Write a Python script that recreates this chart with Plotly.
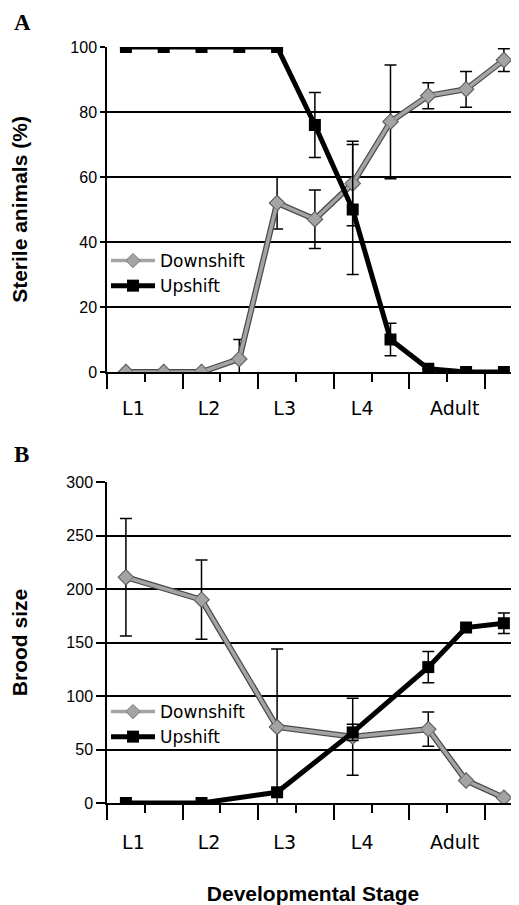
import plotly.graph_objects as go

# ---------------- data ----------------
stage_labels = ["L1", "L2", "L3", "L4", "Adult"]

# Panel A: 11 time points
time_a = [1, 2, 3, 4, 5, 6, 7, 8, 9, 10, 11]
sterile_down = [0, 0, 0, 4, 52, 47, 58, 77, 85, 87, 96]
sterile_down_err = [None, None, None, 6, 8, 9, 13, 17.5, 4, 5.5, 3.5]
sterile_up = [100, 100, 100, 100, 100, 76, 50, 10, 1, 0, 0]
sterile_up_err = [None, None, None, None, None, 10, 20, 5, None, None, None]

# Panel B: 7 time points (on the same 11-slot axis)
time_b = [1, 3, 5, 7, 9, 10, 11]
brood_down = [211, 190, 71, 62, 69, 21, 5]
brood_down_err = [55, 37, 73, 36, 16, None, None]
brood_up = [0, 0, 10, 66, 127, 164, 168]
brood_up_err = [None, None, None, 7.5, 14.5, None, 9.5]

# ---------------- styling ----------------
OFF = 8                       # default page body margin
W, H = 519 - OFF, 905 - OFF
GRAY = "#a4a4a4"
GRAY_DARK = "#4a4a4a"
BLACK = "#000000"
label_pos = [1.2, 3.2, 5.2, 7.25, 9.7]
major_ticks = [0.5, 2.5, 4.5, 6.5, 8.5, 10.5]
minor_ticks = [1.5, 3.5, 5.5, 7.5, 9.5]
xrange_ = [0.5, 11.4]

def px(v):
    return (v - OFF) / W

def py(v):
    return 1 - (v - OFF) / H

x_dom = [px(107), 1.0]
a_dom = [py(372), py(47)]
b_dom = [py(803), py(482)]

fig = go.Figure()

def add_series(x, y, err, name, xa, ya, legend, kind):
    if kind == "down":
        fig.add_trace(go.Scatter(
            x=x, y=y, xaxis=xa, yaxis=ya, mode="lines+markers",
            line=dict(color=GRAY_DARK, width=6),
            marker=dict(symbol="diamond", size=13, color=GRAY_DARK),
            error_y=dict(type="data", array=err, visible=True, color=BLACK,
                         thickness=1.5, width=6),
            showlegend=False, hoverinfo="skip", legend=legend))
        fig.add_trace(go.Scatter(
            x=x, y=y, xaxis=xa, yaxis=ya, mode="lines+markers", name=name,
            line=dict(color=GRAY, width=3.5),
            marker=dict(symbol="diamond", size=11, color=GRAY,
                        line=dict(color="#7a7a7a", width=1)),
            legend=legend))
    else:
        fig.add_trace(go.Scatter(
            x=x, y=y, xaxis=xa, yaxis=ya, mode="lines+markers", name=name,
            line=dict(color=BLACK, width=5),
            marker=dict(symbol="square", size=12, color=BLACK),
            error_y=dict(type="data", array=err, visible=True, color=BLACK,
                         thickness=1.5, width=6),
            legend=legend))

add_series(time_a, sterile_down, sterile_down_err, "Downshift", "x", "y", "legend", "down")
add_series(time_a, sterile_up, sterile_up_err, "Upshift", "x3", "y", "legend", "up")
add_series(time_b, brood_down, brood_down_err, "Downshift", "x2", "y2", "legend2", "down")
add_series(time_b, brood_up, brood_up_err, "Upshift", "x4", "y2", "legend2", "up")

tick_font = dict(family="Liberation Sans, Arial, sans-serif", size=16, color=BLACK)
lab_font = dict(family="DejaVu Sans, Verdana, sans-serif", size=19, color=BLACK)
title_font = dict(family="Liberation Sans, Arial, sans-serif", size=21, color=BLACK)

def tick_axis(anchor):
    return dict(domain=x_dom, range=xrange_, anchor=anchor, showgrid=False,
                zeroline=False, showline=True, linecolor=BLACK, linewidth=1.5,
                tickmode="array", tickvals=major_ticks, ticks="outside",
                ticklen=15, tickwidth=1.5, tickcolor=BLACK, showticklabels=False,
                minor=dict(tickmode="array", tickvals=minor_ticks, ticks="outside",
                           ticklen=8, tickwidth=1.5, tickcolor=BLACK),
                fixedrange=True)

def label_axis(over, anchor, tlen, title=None):
    d = dict(domain=x_dom, range=xrange_, anchor=anchor, overlaying=over,
             showgrid=False, zeroline=False, showline=False,
             tickmode="array", tickvals=label_pos, ticktext=stage_labels,
             ticks="outside", ticklen=tlen, tickcolor="rgba(0,0,0,0)",
             tickfont=lab_font, side="bottom", fixedrange=True)
    if title:
        d["title"] = dict(text=title, font=title_font, standoff=34)
    return d

def y_axis(dom, rng, dt, title, tlen, anchor):
    return dict(domain=dom, range=rng, dtick=dt, tick0=0, anchor=anchor,
                showgrid=True, gridcolor=BLACK, gridwidth=1.5,
                zeroline=False, showline=True, linecolor=BLACK, linewidth=1.5,
                ticks="outside", ticklen=tlen, tickwidth=1.5, tickcolor=BLACK,
                tickfont=tick_font,
                title=dict(text=title, font=title_font, standoff=44),
                fixedrange=True)

leg_font = dict(family="DejaVu Sans, Verdana, sans-serif", size=17, color=BLACK)
letter_font = dict(family="Liberation Serif, serif", size=23, color=BLACK)

fig.update_layout(
    width=W, height=H,
    margin=dict(l=0, r=0, t=0, b=0, autoexpand=False),
    paper_bgcolor="white", plot_bgcolor="white",
    xaxis=tick_axis("y"),
    xaxis2=tick_axis("y2"),
    xaxis3=label_axis("x", "y", 19),
    xaxis4=label_axis("x2", "y2", 22, "<b>Developmental Stage</b>"),
    yaxis=y_axis(a_dom, [0, 100], 20, "<b>Sterile animals (%)</b>", 5, "x"),
    yaxis2=y_axis(b_dom, [0, 300], 50, "<b>Brood size</b>", 9, "x2"),
    legend=dict(x=px(106), y=py(243), xanchor="left", yanchor="top",
                bgcolor="rgba(0,0,0,0)", itemwidth=44, tracegroupgap=0,
                font=leg_font),
    legend2=dict(x=px(106), y=py(694), xanchor="left", yanchor="top",
                 bgcolor="rgba(0,0,0,0)", itemwidth=44, tracegroupgap=0,
                 font=leg_font),
    annotations=[
        dict(text="<b>A</b>", x=px(12), y=py(8), xref="paper", yref="paper",
             xanchor="left", yanchor="top", showarrow=False, font=letter_font),
        dict(text="<b>B</b>", x=px(12), y=py(440), xref="paper", yref="paper",
             xanchor="left", yanchor="top", showarrow=False, font=letter_font),
    ],
    showlegend=True,
)

fig.write_html("out.html")
